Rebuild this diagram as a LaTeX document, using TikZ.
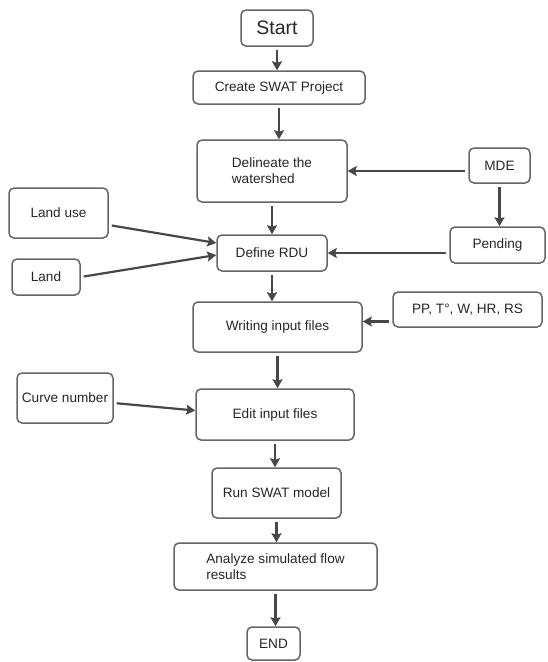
\documentclass[tikz,border=0pt]{standalone}
\usepackage{fontspec}
\setmainfont{Liberation Sans}
\usetikzlibrary{arrows.meta}

\begin{document}
\begin{tikzpicture}[x=1pt,y=-1pt,font=\fontsize{13.6}{16}\selectfont,
    >={Stealth[length=9pt,width=10pt,inset=1.5pt]},
    box/.style={draw=black!60,line width=1.5pt,rounded corners=5pt,
      text=black!85,inner sep=1pt,align=left},
    arr/.style={->,draw=black!72,line width=2.2pt,shorten <=3pt}]
  \useasboundingbox (0,0) rectangle (547,662);
  \node[box,minimum width=72,minimum height=36,font=\fontsize{19.5}{22}\selectfont]
    (start) at (277,28) {Start};
  \node[box,minimum width=172,minimum height=33] (create) at (279,87.5) {Create SWAT Project};
  \node[box,minimum width=150,minimum height=62] (delin) at (272,171) {Delineate the\\watershed};
  \node[box,minimum width=61,minimum height=35] (mde) at (499.5,165.5) {MDE};
  \node[box,minimum width=95,minimum height=36] (pend) at (497.5,245) {Pending};
  \node[box,minimum width=99,minimum height=50] (landuse) at (58.5,213) {Land use};
  \node[box,minimum width=68,minimum height=36] (land) at (46,277) {Land};
  \node[box,minimum width=110,minimum height=36] (rdu) at (272,253) {Define RDU};
  \node[box,minimum width=169,minimum height=50] (write) at (277.5,327) {Writing input files};
  \node[box,minimum width=149,minimum height=35] (pp) at (467.5,309.5) {PP, T°, W, HR, RS};
  \node[box,minimum width=96,minimum height=50] (curve) at (65,398) {Curve number};
  \node[box,minimum width=158,minimum height=51] (edit) at (275,414.5) {Edit input files};
  \node[box,minimum width=129,minimum height=50] (run) at (276.5,493) {Run SWAT model};
  \node[box,minimum width=203,minimum height=47] (anal) at (275.5,566.5)
    {Analyze simulated flow\\results};
  \node[box,minimum width=53,minimum height=33] (end) at (273.5,643.5) {END};

  \draw[arr] (start) -- (start |- create.north);
  \draw[arr] (create) -- (create |- delin.north);
  \draw[arr] (delin) -- (delin |- rdu.north);
  \draw[arr] (rdu) -- (rdu |- write.north);
  \draw[arr] (write) -- (write |- edit.north);
  \draw[arr] (edit) -- (edit |- run.north);
  \draw[arr] (run) -- (run |- anal.north);
  \draw[arr] (anal) -- (anal |- end.north);
  \draw[arr] (mde.west |- delin) -- (delin);
  \draw[arr] (mde) -- (mde |- pend.north);
  \draw[arr] (pend.west |- rdu) -- (rdu);
  \draw[arr] ([yshift=-12pt]pp.west) -- ([yshift=-12pt]pp.west -| write.east);
  \draw[arr] ([yshift=-12pt]landuse.east) -- ([yshift=10pt]rdu.west);
  \draw[arr] (land.east) -- ([yshift=-2pt]rdu.west);
  \draw[arr] ([yshift=-5pt]curve.east) -- ([yshift=4pt]edit.west);
\end{tikzpicture}
\end{document}
